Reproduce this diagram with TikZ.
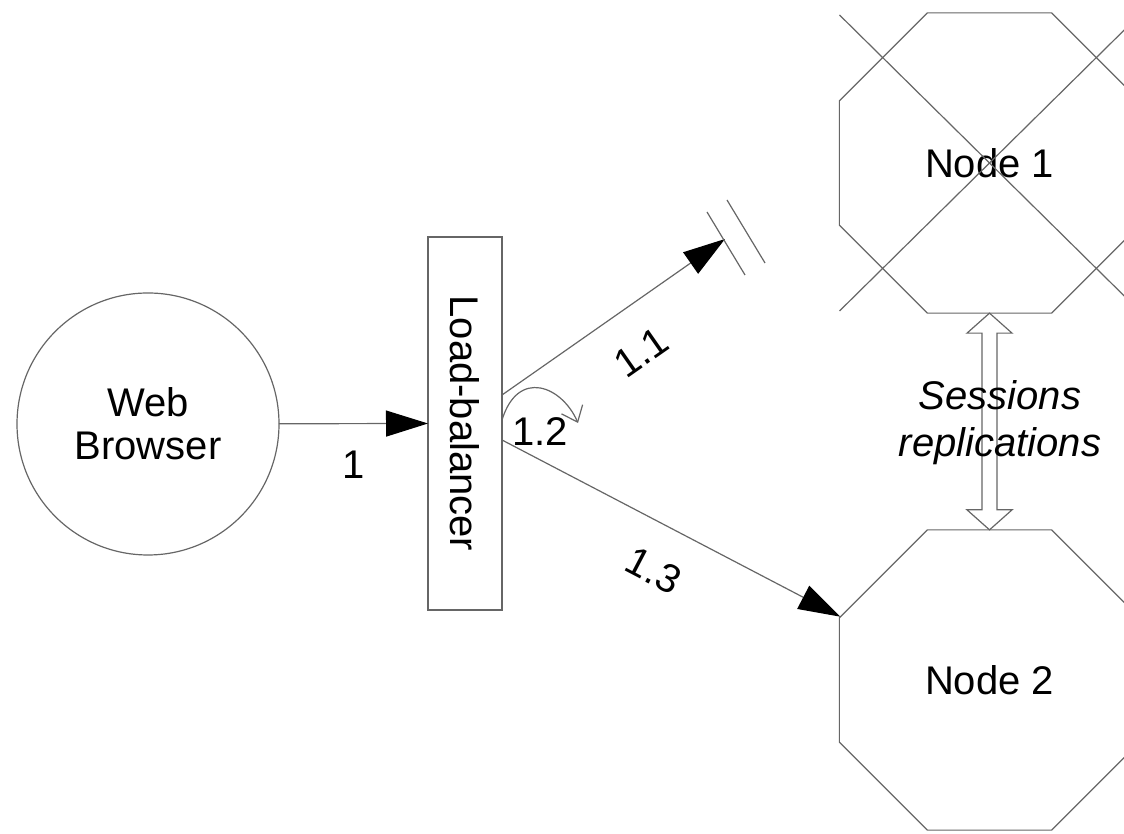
\documentclass[tikz,border=0pt]{standalone}
\usepackage{fontspec}
\setmainfont{Liberation Sans}
\usetikzlibrary{arrows.meta,calc,shapes.geometric}

\begin{document}
\begin{tikzpicture}[x=0.5pt,y=0.5pt,
	every node/.style={font=\fontsize{20}{21.5}\selectfont},
	lnk/.style={draw=black!60, line width=0.6pt},
	tip/.style={-{Triangle[length=21pt,width=13pt,color=black]}},
	srv/.style={regular polygon, regular polygon sides=8, draw=black!60, line width=0.6pt,
		minimum size=162.5pt, inner sep=0pt, outer sep=0pt}
	]
				\clip (0,0) rectangle (1124,834);
				
				\node[circle, lnk, minimum size=131pt, inner sep=0pt, outer sep=0pt, align=center] (wb) at (148,410) {Web\\Browser};
				% rotated box: north is its right side, south its left side
				\node[lnk, rotate=-90, minimum width=186.5pt, minimum height=37pt, inner sep=0pt, outer sep=0pt] (lb) at (465,410.5) {Load-balancer};
				\node[srv] (n1) at (989.5,671) {Node 1};
				\node[srv] (n2) at (989.5,154) {Node 2};
				
				\draw[lnk] ($(n1.center)+(-150,148)$) -- ($(n1.center)+(152,-150)$);
				\draw[lnk] ($(n1.center)+(-150,-148)$) -- ($(n1.center)+(152,150)$);
				
				\draw[lnk, tip] (wb) -- node[pos=0.5, yshift=-20.5pt] {1} (lb.south);
				
				\coordinate (cut) at (725,595);
				\draw[lnk, tip] ($(lb.north)+(0,28.5)$) -- node[sloped, below=12pt, pos=0.51] {1.1} (cut);
				\draw[lnk] ($(cut)+(-18,27)$) -- ($(cut)+(20,-36)$);
				\draw[lnk] ($(cut)+(2,39)$) -- ($(cut)+(40,-24)$);
				
				\draw[lnk, -{Straight Barb[length=7pt,width=11.5pt]}] ($(lb.north)+(0,3.5)$) .. controls +(16,52) and +(-16,37) .. +(76,-3);
				\node (l12) at (540,402) {1.2};
				
				\draw[lnk, tip] ($(lb.north)+(0,-16.5)$) -- node[sloped, below=12pt, pos=0.51] {1.3} (n2.157.5);
				
				\draw[lnk] (n1.south) -- ++(22.5,-20) -- ++(-15,0) -- ($(n2.north)+(7.5,20)$) -- ++(15,0) -- (n2.north)
					-- ++(-22.5,20) -- ++(15,0) -- ($(n1.south)+(-7.5,-20)$) -- ++(-15,0) -- cycle;
				\node[font=\fontsize{20}{23.5}\selectfont\itshape, align=center] (sr) at (1000,411) {Sessions\\replications};
				\end{tikzpicture}
\end{document}
